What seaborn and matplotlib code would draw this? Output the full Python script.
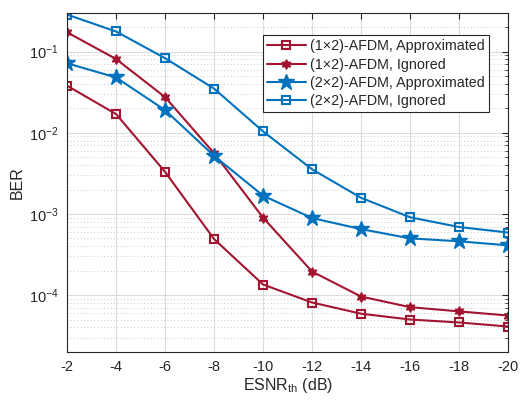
import numpy as np
import pandas as pd
import matplotlib
matplotlib.use("Agg")
import matplotlib.pyplot as plt
import seaborn as sns
from matplotlib.ticker import LogLocator, NullFormatter, FixedLocator

esnr = [-2, -4, -6, -8, -10, -12, -14, -16, -18, -20]
ber_1x2_approx = [0.038, 0.017, 0.0033, 4.9e-4, 1.35e-4, 8.1e-5, 5.9e-5, 5.0e-5, 4.6e-5, 4.1e-5]
ber_1x2_ignored = [0.173, 0.081, 0.0275, 0.0056, 9.0e-4, 1.95e-4, 9.6e-5, 7.1e-5, 6.3e-5, 5.6e-5]
ber_2x2_approx = [0.0718, 0.048, 0.019, 0.0052, 1.68e-3, 8.9e-4, 6.5e-4, 5.0e-4, 4.6e-4, 4.1e-4]
ber_2x2_ignored = [0.286, 0.177, 0.083, 0.035, 0.0104, 0.00355, 1.58e-3, 9.1e-4, 6.9e-4, 5.9e-4]
labels = ["(1×2)-AFDM, Approximated", "(1×2)-AFDM, Ignored",
          "(2×2)-AFDM, Approximated", "(2×2)-AFDM, Ignored"]
xtick_labels = ["-2", "-4", "-6", "-8", "-10", "-12", "-14", "-16", "-18", "-20"]

sns.set_theme(style="white")
plt.rcParams['font.family'] = ['Liberation Sans', 'DejaVu Sans']
plt.rcParams['mathtext.fontset'] = 'custom'
plt.rcParams['mathtext.rm'] = 'Liberation Sans'
plt.rcParams['mathtext.it'] = 'Liberation Sans:italic'

df = pd.concat([
    pd.DataFrame({"ESNR": esnr, "BER": v, "series": lab})
    for v, lab in zip([ber_1x2_approx, ber_1x2_ignored, ber_2x2_approx, ber_2x2_ignored], labels)
])

red = "#A2142F"
blue = "#0072BD"
styles = {
    labels[0]: dict(color=red, marker="s", ms=6, mfc="none", mec=red, mew=1.5),
    labels[1]: dict(color=red, marker=(6, 1, 0), ms=7, mfc=red, mec=red, mew=1.0),
    labels[2]: dict(color=blue, marker="*", ms=12, mfc=blue, mec=blue, mew=1.0),
    labels[3]: dict(color=blue, marker="s", ms=6, mfc="none", mec=blue, mew=1.5),
}

fig = plt.figure(figsize=(5.2, 4.03), dpi=100)
ax = fig.add_axes([0.129, 0.127, 0.848, 0.841])

for lab in labels:
    st = styles[lab]
    sns.lineplot(data=df[df.series == lab], x="ESNR", y="BER", ax=ax,
                 color=st["color"], lw=1.5, marker=st["marker"], markersize=st["ms"],
                 markerfacecolor=st["mfc"], markeredgecolor=st["mec"],
                 markeredgewidth=st["mew"], label=lab, legend=True, errorbar=None)

ax.set_yscale("log")
ax.set_xlim(-2, -20)
ax.set_ylim(2e-5, 0.3)
ax.xaxis.set_major_locator(FixedLocator(esnr))
ax.set_xticklabels(xtick_labels)
ax.yaxis.set_major_locator(LogLocator(base=10, numticks=10))
ax.yaxis.set_minor_locator(LogLocator(base=10, subs=np.arange(2, 10), numticks=20))
ax.yaxis.set_minor_formatter(NullFormatter())

ax.grid(True, which="major", color="#dcdcdc", lw=0.8, ls="-")
ax.grid(True, which="minor", axis="y", color="#b8b8b8", lw=0.6, ls=(0, (1, 3)))
ax.set_axisbelow(True)

for sp in ax.spines.values():
    sp.set_color("#262626")
    sp.set_linewidth(0.8)
ax.tick_params(which="both", direction="in", top=True, right=True, colors="#262626",
               labelsize=10.5, labelcolor="#262626")
ax.tick_params(which="major", length=4, width=0.8, pad=6)
ax.tick_params(which="minor", length=2.5, width=0.6)

ax.set_xlabel("ESNR$_{\\mathrm{th}}$ (dB)", fontsize=11.5, color="#262626", labelpad=1)
ax.set_ylabel("BER", fontsize=11.5, color="#262626", labelpad=3)

leg = ax.legend(loc="upper right", bbox_to_anchor=(0.957, 0.935), fontsize=10.3,
                frameon=True, fancybox=False, edgecolor="#262626", framealpha=1,
                handlelength=2.7, borderpad=0.3, labelspacing=0.3, handletextpad=0.3,
                borderaxespad=0)
leg.get_frame().set_linewidth(0.8)

fig.savefig("out.png", dpi=100)
